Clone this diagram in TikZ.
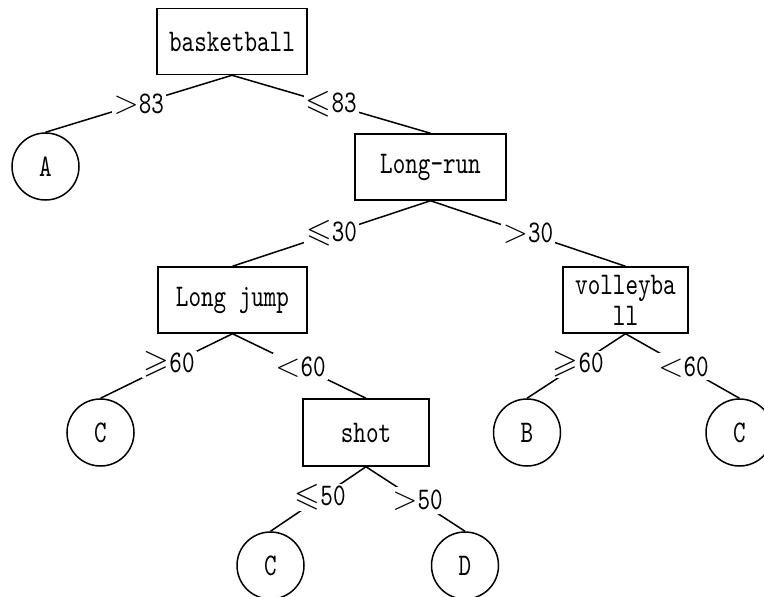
\RequirePackage{fix-cm}
\documentclass[tikz,border=0pt]{standalone}
\usepackage{amssymb}
\usepackage{graphicx}
\usepackage{fontspec}
\newfontfamily\simfont{lmmono10-regular}[Extension=.otf, FakeStretch=0.76]
\newcommand{\simsize}{\simfont\fontsize{31.5}{31}\selectfont}
\newcommand{\rel}[1]{\scalebox{1.05}{$#1$}}
\tikzset{
  box/.style={draw, line width=1.5pt, minimum width=#1, minimum height=66pt, inner sep=0pt, font=\simsize},
  leaf/.style={draw, circle, line width=1.5pt, minimum size=67pt, inner sep=0pt, font=\simsize},
  edge/.style={line width=1.5pt},
  lbl/.style={fill=white, inner xsep=2pt, inner ysep=0pt, minimum height=27pt, font=\simsize}
}
\begin{document}
\begin{tikzpicture}[x=1pt,y=-1pt]
\useasboundingbox (0,0) rectangle (764,597);
\clip (0,0) rectangle (764,597);
\node[box=150pt] (bb) at (232,41.5) {basketball};
\node[leaf] (A) at (45.5,166.5) {A};
\node[box=151pt] (lr) at (430.5,167) {Long-run};
\node[box=149pt] (lj) at (232.5,300) {Long jump};
\node[box=125pt, align=center] (vb) at (625.5,300) {volleyba\\ll};
\node[leaf] (c1) at (100.5,432.5) {C};
\node[box=126pt, minimum height=67pt] (sh) at (366,432.5) {shot};
\node[leaf] (b) at (527,432.5) {B};
\node[leaf] (c2) at (739.5,432.5) {C};
\node[leaf] (c3) at (270.5,565.5) {C};
\node[leaf] (d) at (465,565.5) {D};
\draw[edge] (bb.south) -- node[lbl] {\rel{>}83} (A.north);
\draw[edge] (bb.south) -- node[lbl] {\rel{\leqslant}83} (lr.north);
\draw[edge] (lr.south) -- node[lbl] {\rel{\leqslant}30} (lj.north);
\draw[edge] (lr.south) -- node[lbl] {\rel{>}30} (vb.north);
\draw[edge] (lj.south) -- node[lbl, pos=0.48] {\rel{\geqslant}60} (c1.north);
\draw[edge] (lj.south) -- node[lbl, pos=0.51] {\rel{<}60} (sh.north);
\draw[edge] (vb.south) -- node[lbl, pos=0.48] {\rel{\geqslant}60} (b.north);
\draw[edge] (vb.south) -- node[lbl, pos=0.51] {\rel{<}60} (c2.north);
\draw[edge] (sh.south) -- node[lbl, pos=0.48] {\rel{\leqslant}50} (c3.north);
\draw[edge] (sh.south) -- node[lbl, pos=0.52] {\rel{>}50} (d.north);
\end{tikzpicture}
\end{document}
